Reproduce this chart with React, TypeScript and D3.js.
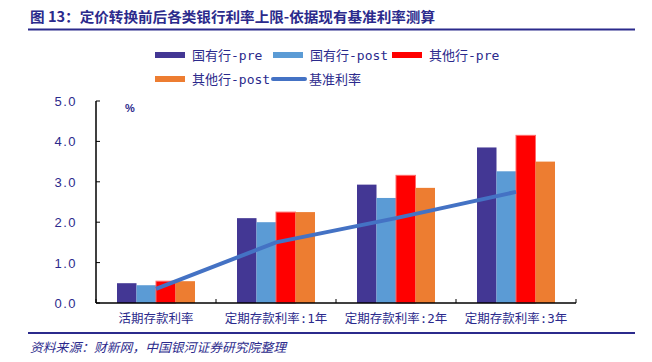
import React from "react";
import * as d3 from "d3";

const categories = ["活期存款利率", "定期存款利率:1年", "定期存款利率:2年", "定期存款利率:3年"];
const seriesNames = ["国有行-pre", "国有行-post", "其他行-pre", "其他行-post"];
const stateOwnedPre = [0.49, 2.1, 2.93, 3.85];
const stateOwnedPost = [0.44, 2.0, 2.6, 3.26];
const otherPre = [0.54, 2.25, 3.16, 4.15];
const otherPost = [0.54, 2.25, 2.85, 3.5];
const benchmark = [0.35, 1.5, 2.1, 2.75];
const lineName = "基准利率";
const yTicks = [0, 1, 2, 3, 4, 5];

const seriesValues = [stateOwnedPre, stateOwnedPost, otherPre, otherPost];
const colors = ["#433794", "#5B9BD5", "#FF0000", "#ED7D31"];
const strokes = ["none", "none", "#FF6B6B", "none"];
const lineColor = "#4472C4";
const navy = "#2B2A8C";

const W = 652;
const H = 362;
const left = 96;
const right = 576;
const top = 101;
const bottom = 303;

export default function App() {
  const x0 = d3.scaleBand<string>().domain(categories).range([left, right]).padding(0);
  const x1 = d3
    .scaleBand<string>()
    .domain(seriesNames)
    .range([0, x0.bandwidth()])
    .paddingInner(0)
    .paddingOuter(1.077);
  const y = d3.scaleLinear().domain([0, 5]).range([bottom, top]);

  const line = d3
    .line<number>()
    .x((_, i) => (x0(categories[i]) as number) + x0.bandwidth() / 2)
    .y((d) => y(d));

  const cjkMono = "'DejaVu Sans Mono', 'Noto Sans CJK SC', sans-serif";

  const legendRow1 = [0, 1, 2];
  const legendX = [155, 273, 392];

  return (
    <svg
      width={W}
      height={H}
      style={{ position: "absolute", left: 0, top: 0, background: "#fff" }}
    >
      {/* Title */}
      <text
        x={30}
        y={22}
        fill={navy}
        fontFamily="'Noto Sans CJK SC', sans-serif"
        fontWeight="bold"
        fontSize={14}
        textLength={405}
        lengthAdjust="spacingAndGlyphs"
      >
        图 13：定价转换前后各类银行利率上限-依据现有基准利率测算
      </text>
      <line x1={28} x2={635} y1={29.5} y2={29.5} stroke={navy} strokeWidth={2} />

      {/* Legend */}
      {legendRow1.map((i, k) => (
        <g key={i}>
          <rect x={legendX[k]} y={52} width={30} height={6} fill={colors[i]} />
          <text x={legendX[k] + 37} y={60} fill={navy} fontFamily={cjkMono} fontSize={13}>
            {seriesNames[i]}
          </text>
        </g>
      ))}
      <g>
        <rect x={155} y={76} width={30} height={6} fill={colors[3]} />
        <text x={192} y={84} fill={navy} fontFamily={cjkMono} fontSize={13}>
          {seriesNames[3]}
        </text>
      </g>
      <g>
        <line x1={273} x2={305} y1={79} y2={79} stroke={lineColor} strokeWidth={4} strokeLinecap="round" />
        <text x={309} y={84} fill={navy} fontFamily={cjkMono} fontSize={13}>
          {lineName}
        </text>
      </g>

      {/* Bars */}
      {categories.map((c, ci) => (
        <g key={c} transform={`translate(${x0(c)},0)`}>
          {seriesNames.map((s, si) => {
            const v = seriesValues[si][ci];
            return (
              <rect
                key={s}
                x={x1(s) as number}
                y={y(v)}
                width={x1.bandwidth()}
                height={y(0) - y(v)}
                fill={colors[si]}
                stroke={strokes[si]}
                strokeWidth={1}
              />
            );
          })}
        </g>
      ))}

      {/* Benchmark line */}
      <path d={line(benchmark) || ""} fill="none" stroke={lineColor} strokeWidth={4} />

      {/* Axes */}
      <line x1={left} x2={left} y1={top} y2={bottom} stroke="#000" strokeWidth={1.5} />
      <line x1={left} x2={right} y1={bottom} y2={bottom} stroke="#000" strokeWidth={1.5} />
      {yTicks.map((t) => (
        <g key={t}>
          <line x1={left} x2={left + 4} y1={y(t)} y2={y(t)} stroke="#000" strokeWidth={1} />
          <text
            x={77}
            y={y(t) + 5}
            textAnchor="end"
            fill={navy}
            fontFamily="'Liberation Sans', Arial, sans-serif"
            fontSize={13}
            letterSpacing={1.5}
          >
            {t.toFixed(1)}
          </text>
        </g>
      ))}
      {categories.map((c) => (
        <line
          key={c}
          x1={(x0(c) as number) + x0.bandwidth()}
          x2={(x0(c) as number) + x0.bandwidth()}
          y1={bottom}
          y2={bottom - 4}
          stroke="#000"
          strokeWidth={1}
        />
      ))}
      <line x1={left} x2={left} y1={bottom} y2={bottom - 4} stroke="#000" />
      <text
        x={130}
        y={112}
        textAnchor="middle"
        fill={navy}
        fontFamily="'Liberation Sans', Arial, sans-serif"
        fontWeight="bold"
        fontSize={11}
      >
        %
      </text>
      {categories.map((c) => (
        <text
          key={c}
          x={(x0(c) as number) + x0.bandwidth() / 2}
          y={323}
          textAnchor="middle"
          fill={navy}
          fontFamily={cjkMono}
          fontSize={12.5}
        >
          {c}
        </text>
      ))}

      {/* Footer */}
      <line x1={28} x2={635} y1={333} y2={333} stroke={navy} strokeWidth={2} />
      <text
        x={30}
        y={352}
        fill={navy}
        fontFamily="'Noto Sans CJK SC', sans-serif"
        fontStyle="italic"
        fontSize={12.5}
        textLength={256}
        lengthAdjust="spacingAndGlyphs"
      >
        资料来源：财新网，中国银河证券研究院整理
      </text>
    </svg>
  );
}
